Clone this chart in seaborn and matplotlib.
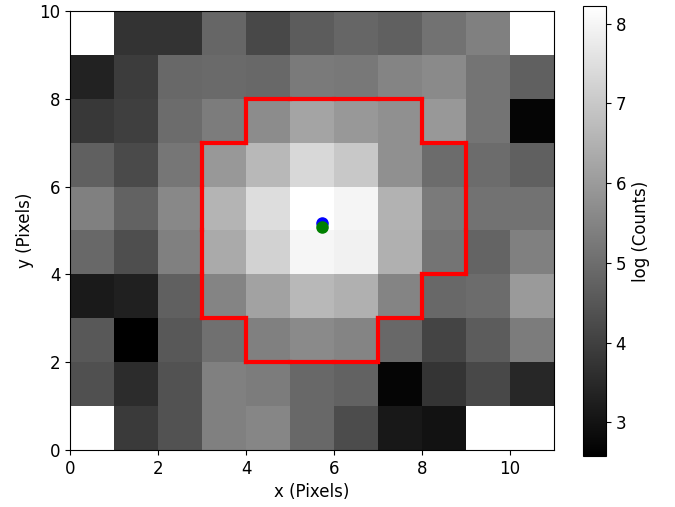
import numpy as np
import seaborn as sns
import matplotlib
matplotlib.use("Agg")
import matplotlib.pyplot as plt
from matplotlib.collections import LineCollection

# log counts per pixel, top row (y=9) first; nan = no data
log_counts_rows = [
    [np.nan, 3.71, 3.71, 4.84, 4.17, 4.61, 4.84, 4.70, 5.10, 5.41, np.nan],
    [3.33, 3.91, 4.88, 4.92, 4.88, 5.28, 5.23, 5.50, 5.63, 5.15, 4.70],
    [3.82, 3.98, 4.97, 5.32, 5.68, 6.21, 5.94, 5.76, 5.94, 5.15, 2.71],
    [4.70, 4.22, 5.19, 5.94, 6.65, 7.36, 7.00, 5.76, 4.97, 4.97, 4.70],
    [5.41, 4.75, 5.59, 6.56, 7.45, 8.22, 7.98, 6.52, 5.28, 5.10, 5.10],
    [4.88, 4.31, 5.41, 6.34, 7.22, 8.02, 7.89, 6.47, 5.15, 4.79, 5.41],
    [3.16, 3.29, 4.70, 5.50, 6.16, 6.65, 6.47, 5.50, 4.88, 4.97, 5.99],
    [4.53, 2.58, 4.53, 5.06, 5.41, 5.63, 5.50, 4.88, 4.08, 4.61, 5.32],
    [4.35, 3.55, 4.39, 5.41, 5.32, 4.88, 4.75, 2.71, 3.73, 4.17, 3.46],
    [np.nan, 3.86, 4.39, 5.41, 5.54, 4.88, 4.26, 3.11, 2.98, np.nan, np.nan],
]

# aperture pixels, listed per row (y) as first and last x column
aperture_rows = [2, 3, 4, 5, 6, 7]
aperture_x_first = [4, 3, 3, 3, 3, 4]
aperture_x_last = [6, 7, 8, 8, 8, 7]

# centroid estimates
centroid_x = [5.73, 5.73]
centroid_y = [5.16, 5.09]
centroid_colors = ["blue", "green"]

x_ticks = [0, 2, 4, 6, 8, 10]
y_ticks = [0, 2, 4, 6, 8, 10]
cbar_ticks = [3, 4, 5, 6, 7, 8]

FS = 12

image = np.array(log_counts_rows)[::-1]  # row 0 -> y=0
ny, nx = image.shape

mask = np.zeros((ny, nx), dtype=bool)
for row, x0, x1 in zip(aperture_rows, aperture_x_first, aperture_x_last):
    mask[row, x0:x1 + 1] = True

fig = plt.figure(figsize=(6.75, 5.07), dpi=100)
ax = fig.add_axes([70 / 675, 57 / 507, 484 / 675, 439 / 507])
cax = fig.add_axes([583 / 675, 51 / 507, 23 / 675, 450 / 507])

sns.heatmap(image, cmap="gray", ax=ax, cbar_ax=cax, square=False,
            xticklabels=False, yticklabels=False,
            cbar_kws={"label": "log (Counts)", "ticks": cbar_ticks})

ax.set_xlim(0, nx)
ax.set_ylim(0, ny)
ax.set_xticks(x_ticks)
ax.set_xticklabels([str(t) for t in x_ticks])
ax.set_yticks(y_ticks)
ax.set_yticklabels([str(t) for t in y_ticks], rotation=0)
ax.tick_params(left=True, bottom=True, length=3.5, width=0.8, labelsize=FS)
for side in ax.spines.values():
    side.set_visible(True)
    side.set_linewidth(0.8)
    side.set_color("black")

# aperture outline: every cell edge between an aperture pixel and a non-aperture one
segs = []
for j in range(ny):
    for i in range(nx):
        if not mask[j, i]:
            continue
        if j == 0 or not mask[j - 1, i]:
            segs.append([(i, j), (i + 1, j)])
        if j == ny - 1 or not mask[j + 1, i]:
            segs.append([(i, j + 1), (i + 1, j + 1)])
        if i == 0 or not mask[j, i - 1]:
            segs.append([(i, j), (i, j + 1)])
        if i == nx - 1 or not mask[j, i + 1]:
            segs.append([(i + 1, j), (i + 1, j + 1)])
ax.add_collection(LineCollection(segs, colors="red", linewidths=3,
                                 capstyle="projecting", zorder=3))

for cx, cy, col in zip(centroid_x, centroid_y, centroid_colors):
    ax.plot(cx, cy, "o", color=col, markersize=8, zorder=4)

ax.set_xlabel("x (Pixels)", fontsize=FS)
ax.set_ylabel("y (Pixels)", fontsize=FS)

cbar = ax.collections[0].colorbar
cbar.outline.set_linewidth(0.8)
cbar.outline.set_edgecolor("black")
cbar.ax.tick_params(labelsize=FS, length=3.5, width=0.8)
cbar.set_label("log (Counts)", fontsize=FS)

fig.savefig("out.png", dpi=100)
